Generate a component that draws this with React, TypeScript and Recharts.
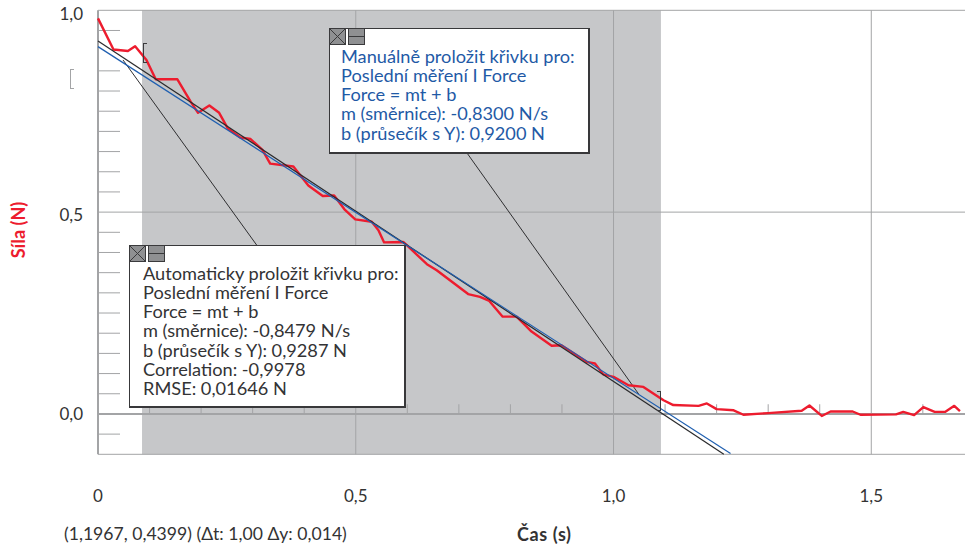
import { LineChart, Line, XAxis, YAxis, ReferenceArea, ReferenceLine } from 'recharts';

const FONT = 'Lato, sans-serif';

// measured force curve
const forceTimes = [0, 0.03, 0.058, 0.072, 0.094, 0.112, 0.154, 0.18, 0.194, 0.216, 0.235, 0.252, 0.276, 0.296, 0.319, 0.334, 0.379, 0.408, 0.436, 0.458, 0.478, 0.499, 0.531, 0.544, 0.555, 0.592, 0.599, 0.638, 0.657, 0.718, 0.741, 0.759, 0.785, 0.812, 0.841, 0.88, 0.899, 0.948, 0.964, 0.98, 1.0, 1.029, 1.058, 1.097, 1.116, 1.165, 1.181, 1.2, 1.233, 1.252, 1.3, 1.365, 1.38, 1.404, 1.421, 1.464, 1.479, 1.548, 1.562, 1.583, 1.601, 1.623, 1.643, 1.661, 1.672];
const forceValues = [0.98, 0.903, 0.899, 0.911, 0.877, 0.829, 0.829, 0.773, 0.746, 0.764, 0.746, 0.707, 0.685, 0.681, 0.654, 0.62, 0.613, 0.566, 0.54, 0.541, 0.507, 0.482, 0.476, 0.455, 0.425, 0.426, 0.418, 0.371, 0.356, 0.297, 0.29, 0.28, 0.241, 0.241, 0.204, 0.169, 0.17, 0.129, 0.125, 0.098, 0.092, 0.071, 0.067, 0.034, 0.022, 0.02, 0.026, 0.012, 0.009, -0.002, 0.002, 0.008, 0.021, -0.005, 0.006, 0.006, -0.002, -0.001, 0.005, -0.003, 0.017, 0.005, 0.005, 0.02, 0.007];

// fitted lines, as they sit in the picture
const autoFitTimes = [0, 1.214];
const autoFitValues = [0.924, -0.1];
const manualFitTimes = [0, 1.227];
const manualFitValues = [0.91, -0.098];

// callout leaders
const autoLeaderTimes = [0.0485, 0.308];
const autoLeaderValues = [0.877, 0.418];
const manualLeaderTimes = [0.716, 1.049];
const manualLeaderValues = [0.646, 0.049];

const xTicks = [0, 0.5, 1, 1.5];
const yTicks = [0, 0.5, 1];
const xMinor = [0.1, 0.2, 0.3, 0.4, 0.6, 0.7, 0.8, 0.9, 1.1, 1.2, 1.3, 1.4, 1.6];
const yMinor = [0.95, 0.85, 0.8, 0.75, 0.7, 0.65, 0.6, 0.55, 0.45, 0.4, 0.35, 0.3, 0.25, 0.2, 0.15, 0.1, 0.05, -0.05];
const selection = [0.0854, 1.092];

const manualText = [
  'Manuálně proložit křivku pro:',
  'Poslední měření I Force',
  'Force = mt + b',
  'm (směrnice): -0,8300 N/s',
  'b (průsečík s Y): 0,9200 N',
];
const autoText = [
  'Automaticky proložit křivku pro:',
  'Poslední měření I Force',
  'Force = mt + b',
  'm (směrnice): -0,8479 N/s',
  'b (průsečík s Y): 0,9287 N',
  'Correlation: -0,9978',
  'RMSE: 0,01646 N',
];

const zip = (xs: number[], ys: number[]) => xs.map((t, i) => ({ t, y: ys[i] }));
const comma = (v: number) => (v === 0 ? '0' : v.toFixed(1).replace('.', ','));

const GRID = '#a3a4a6';

// the top labels sit a little below their grid line in the original
function YTick({ x, y, payload }: any) {
  const shift = payload.value === 1 ? 3.5 : payload.value === 0.5 ? 2.5 : 0;
  return (
    <text x={x} y={y + shift} dy={6} textAnchor="end" fontSize={17} fill="#333" fontFamily={FONT}>
      {payload.value.toFixed(1).replace('.', ',')}
    </text>
  );
}

function BoxIcons() {
  return (
    <svg width={38} height={18} style={{ position: 'absolute', left: -1, top: -1 }}>
      <rect x={0.5} y={0.5} width={16} height={16} fill="#8f9092" stroke="#3a3a3c" />
      <path d="M0.5 0.5L16.5 16.5M16.5 0.5L0.5 16.5" stroke="#3a3a3c" />
      <rect x={19.5} y={0.5} width={16} height={16} fill="#8f9092" stroke="#3a3a3c" />
      <path d="M19.5 8.5H35.5" stroke="#3a3a3c" />
    </svg>
  );
}

function Callout({ left, top, width, height, color, lines, pad }: any) {
  return (
    <div
      style={{
        position: 'absolute', left, top, width, height, boxSizing: 'border-box',
        background: '#fff', border: '1px solid #38383a', borderRightWidth: 2, borderBottomWidth: 2,
      }}
    >
      <BoxIcons />
      <div
        style={{
          position: 'absolute', left: pad, top: 17.5, whiteSpace: 'nowrap', color,
          fontFamily: FONT, fontSize: 18.2, lineHeight: '19.3px',
        }}
      >
        {lines.map((l: string) => <div key={l}>{l}</div>)}
      </div>
    </div>
  );
}

function Bracket({ left, top, height, color, side }: any) {
  const style: any = { position: 'absolute', left, top, width: 4, height, boxSizing: 'border-box', borderTop: `1px solid ${color}`, borderBottom: `1px solid ${color}` };
  style[side === 'left' ? 'borderLeft' : 'borderRight'] = `1px solid ${color}`;
  return <div style={style} />;
}

const labelStyle: any = { position: 'absolute', fontFamily: FONT, whiteSpace: 'nowrap' };

export default function App() {
  return (
    <div style={{ position: 'absolute', left: 0, top: 0, width: 965, height: 546, background: '#fff', overflow: 'hidden' }}>
      <LineChart width={965} height={546} margin={{ top: 10.3, right: 0, bottom: 31.7, left: 0 }}>
        <XAxis
          type="number"
          dataKey="t"
          domain={[0, 1.6818]}
          ticks={xTicks}
          tickFormatter={comma}
          axisLine={false}
          tickLine={false}
          tickMargin={30}
          height={60}
          interval={0}
          tick={{ fontSize: 17, fill: '#333', fontFamily: FONT }}
        />
        <YAxis
          type="number"
          domain={[-0.1, 1]}
          ticks={yTicks}
          axisLine={false}
          tickLine={false}
          width={98}
          tickMargin={9}
          interval={0}
          tick={<YTick />}
        />
        <ReferenceArea x1={selection[0]} x2={selection[1]} y1={-0.1} y2={1} fill="#c6c7c9" fillOpacity={1} stroke="none" />
        {xTicks.slice(1).map(v => (
          <ReferenceLine key={`gx${v}`} x={v} stroke={GRID} strokeWidth={1} />
        ))}
        <ReferenceLine y={1} stroke={GRID} strokeWidth={1} />
        <ReferenceLine y={0.5} stroke={GRID} strokeWidth={1} />
        <ReferenceLine y={-0.1} stroke={GRID} strokeWidth={1} />
        <ReferenceLine y={0} stroke={GRID} strokeWidth={2} />
        <ReferenceLine x={0} stroke={GRID} strokeWidth={2} />
        {yMinor.map(v => (
          <ReferenceLine key={`my${v}`} segment={[{ x: 0, y: v }, { x: 0.0427, y: v }]} stroke={GRID} strokeWidth={1} />
        ))}
        {xMinor.map(v => (
          <ReferenceLine key={`mx${v}`} segment={[{ x: v, y: 0 }, { x: v, y: 0.024 }]} stroke={GRID} strokeWidth={1} />
        ))}
        <Line data={zip(autoLeaderTimes, autoLeaderValues)} dataKey="y" stroke="#2f2f31" strokeWidth={1} dot={false} isAnimationActive={false} />
        <Line data={zip(manualLeaderTimes, manualLeaderValues)} dataKey="y" stroke="#2f2f31" strokeWidth={1} dot={false} isAnimationActive={false} />
        <Line data={zip(forceTimes, forceValues)} dataKey="y" stroke="#ed1c2e" strokeWidth={2.4} strokeLinejoin="round" dot={false} isAnimationActive={false} />
        <Line data={zip(autoFitTimes, autoFitValues)} dataKey="y" stroke="#2a2a2c" strokeWidth={1.2} dot={false} isAnimationActive={false} />
        <Line data={zip(manualFitTimes, manualFitValues)} dataKey="y" stroke="#1f5fb0" strokeWidth={1.2} dot={false} isAnimationActive={false} />
      </LineChart>

      <Bracket left={143} top={43} height={20} color="#3a3a3c" side="left" />
      <Bracket left={70} top={69} height={20} color="#a3a4a6" side="left" />
      <Bracket left={657} top={391} height={20} color="#3a3a3c" side="right" />

      <Callout left={329} top={28} width={261} height={126} color="#1f5aa6" lines={manualText} pad={11} />
      <Callout left={129} top={245} width={277} height={163} color="#333335" lines={autoText} pad={13} />

      <div style={{ ...labelStyle, left: 64, top: 523, fontSize: 17.6, color: '#333' }}>(1,1967, 0,4399) (Δt: 1,00 Δy: 0,014)</div>
      <div style={{ ...labelStyle, left: 517, top: 523, fontSize: 18, letterSpacing: 0.6, fontWeight: 700, color: '#333' }}>Čas (s)</div>
      <div
        style={{
          ...labelStyle, left: 18, top: 230, fontSize: 18, fontWeight: 700, color: '#ed1c2e',
          transform: 'translate(-50%, -50%) rotate(-90deg)',
        }}
      >
        Síla (N)
      </div>
    </div>
  );
}
